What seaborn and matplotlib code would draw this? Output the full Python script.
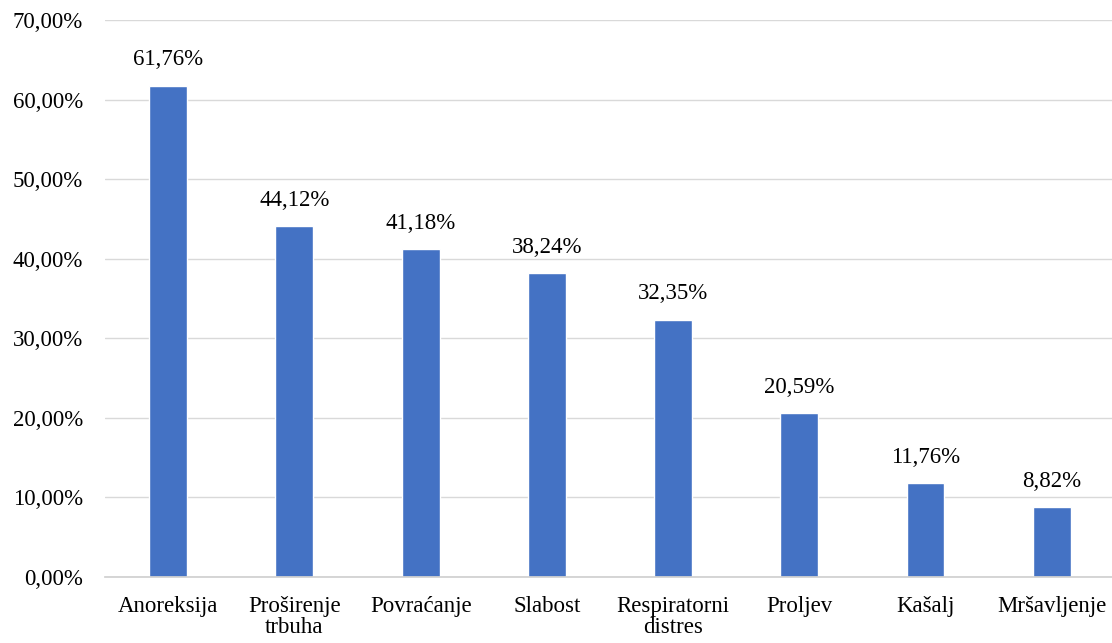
import matplotlib
matplotlib.use("Agg")
import matplotlib.pyplot as plt
import seaborn as sns
import pandas as pd
from matplotlib.ticker import FuncFormatter

categories = ["Anoreksija", "Proširenje\ntrbuha", "Povraćanje", "Slabost",
              "Respiratorni\ndistres", "Proljev", "Kašalj", "Mršavljenje"]
values = [61.76, 44.12, 41.18, 38.24, 32.35, 20.59, 11.76, 8.82]
yticks = [0, 10, 20, 30, 40, 50, 60, 70]

sns.set_theme(style="white")
plt.rcParams['font.family'] = ['Liberation Serif', 'DejaVu Serif']
plt.rcParams['text.color'] = 'black'

df = pd.DataFrame({"cat": categories, "val": values})

fig = plt.figure(figsize=(11.12, 6.43), dpi=100)
ax = fig.add_axes([0.0945, 0.1026, 0.908, 0.8664])
sns.barplot(data=df, x="cat", y="val", color="#4472C4", width=0.3, ax=ax, saturation=1)

ax.set_ylim(0, 70)
ax.set_yticks(yticks)
ax.yaxis.set_major_formatter(FuncFormatter(lambda v, p: f"{v:.2f}%".replace(".", ",")))
ax.grid(axis="y", color="#D9D9D9", linewidth=1)
ax.set_axisbelow(True)
for s in ["top", "right", "left"]:
    ax.spines[s].set_visible(False)
ax.spines["bottom"].set_color("#D0D0D0")
ax.tick_params(axis="both", length=0, labelsize=16.5, colors="black")
ax.tick_params(axis="y", pad=16)
ax.tick_params(axis="x", pad=14)
ax.set_xlabel("")
ax.set_ylabel("")
for lbl in ax.get_xticklabels():
    lbl.set_linespacing(1.0)

for i, v in enumerate(values):
    ax.text(i, v + 1.9, f"{v:.2f}%".replace(".", ","), ha="center", va="bottom",
            fontsize=16.5, color="black")

fig.savefig("out.png", dpi=100)
